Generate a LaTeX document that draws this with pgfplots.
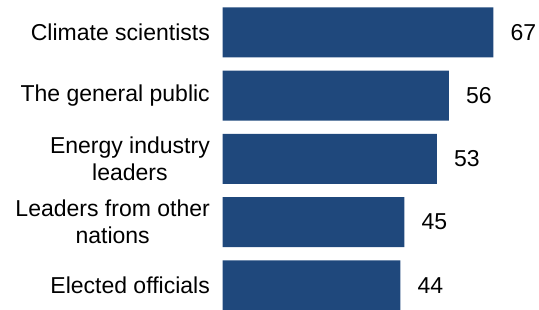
\documentclass[border=0pt]{standalone}
\usepackage{fontspec}
\setmainfont{Liberation Sans}
\usepackage{pgfplots}
\pgfplotsset{compat=1.18}
\definecolor{barblue}{HTML}{1F487C}
\begin{document}
\fontsize{23}{27}\selectfont
\begin{tikzpicture}
\path[use as bounding box] (0,0) rectangle (539pt,309pt);
\begin{axis}[
  at={(222.7pt,0pt)}, anchor=south west,
  scale only axis,
  width=316.3pt, height=309pt,
  xbar, bar width=50pt,
  xmin=0, xmax=78.3,
  ymin=-0.511, ymax=4.375,
  y dir=reverse,
  axis line style={draw=none},
  major tick length=0pt,
  xtick=\empty,
  ytick={0,1,2,3,4},
  yticklabels={Climate scientists,The general public,{Energy industry\\leaders},{Leaders from other\\nations},Elected officials},
  yticklabel style={align=center, inner sep=0pt, xshift=-12.7pt, font=\fontsize{23}{27}\selectfont},
  /pgf/number format/assume math mode=true,
  nodes near coords,
  every node near coord/.append style={anchor=west, inner sep=0pt, xshift=17pt, font=\fontsize{23}{27}\selectfont, text=black},
  clip=false,
]
\addplot[fill=barblue, draw=none] coordinates {(67,0) (56,1) (53,2) (45,3) (44,4)};
\end{axis}
\end{tikzpicture}
\end{document}
